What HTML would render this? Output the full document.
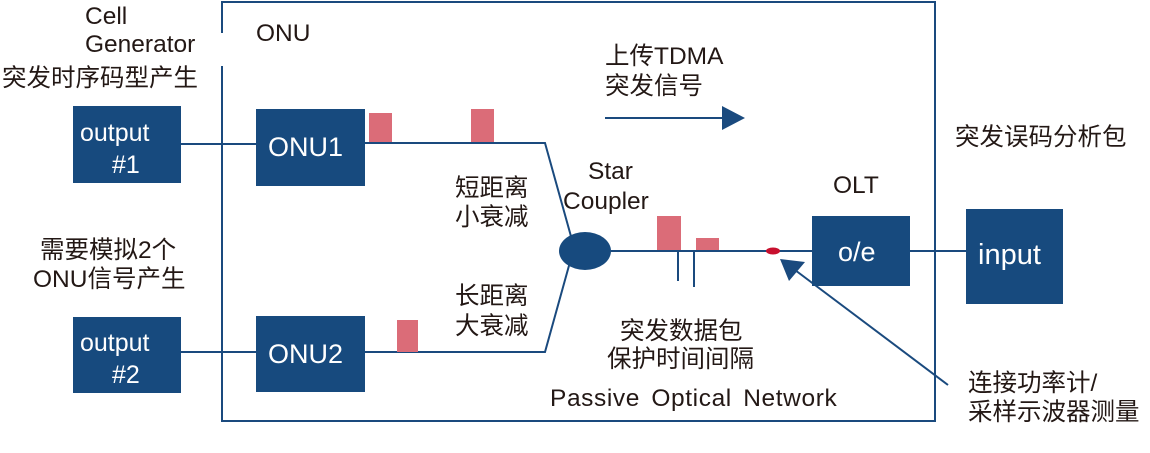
<!DOCTYPE html>
<html><head><meta charset="utf-8"><style>
body{margin:0;background:#fff}
svg text{font-family:"Liberation Sans","Noto Sans CJK SC",sans-serif;fill:#231815}
.w{fill:#fff}
</style></head><body>
<svg width="1150" height="448" viewBox="0 0 1150 448">
<g stroke="#1a4a7e" stroke-width="2" fill="none">
<path d="M222 33 V2 H935 V421 H222 V66"/>
<line x1="181" y1="144" x2="256" y2="144"/>
<line x1="181" y1="352" x2="256" y2="352"/>
<path d="M365 143 H545 L572 240"/>
<path d="M570 262 L545 352 H365"/>
<line x1="611" y1="251" x2="812" y2="251"/>
<line x1="678" y1="251" x2="678" y2="281"/>
<line x1="694" y1="251" x2="694" y2="287"/>
<line x1="910" y1="251" x2="966" y2="251"/>
<line x1="605" y1="118" x2="725" y2="118"/>
<line x1="948" y1="385" x2="795" y2="270"/>
</g>
<polygon points="745,118 722,106 722,130" fill="#1a4a7e"/>
<polygon points="780,259 805,262 789,281" fill="#1a4a7e"/>
<g fill="#174a7e">
<rect x="73" y="106" width="108" height="77"/>
<rect x="256" y="109" width="109" height="77"/>
<rect x="73" y="317" width="108" height="76"/>
<rect x="256" y="316" width="109" height="76"/>
<rect x="812" y="216" width="98" height="70"/>
<rect x="966" y="209" width="97" height="95"/>
<ellipse cx="585" cy="251" rx="26" ry="19"/>
</g>
<g fill="#db6c78">
<rect x="369" y="113" width="23" height="29"/>
<rect x="471" y="109" width="23" height="33"/>
<rect x="397" y="320" width="21" height="32"/>
<rect x="657" y="216" width="24" height="34"/>
<rect x="696" y="238" width="23" height="12"/>
</g>
<ellipse cx="773" cy="251" rx="7" ry="3.5" fill="#c8102e"/>
<g font-size="25">
<text class="w" x="80" y="141">output</text>
<text class="w" x="112" y="173">#1</text>
<text class="w" x="80" y="351">output</text>
<text class="w" x="112" y="383">#2</text>
<text class="w" x="268" y="156" font-size="27">ONU1</text>
<text class="w" x="268" y="363" font-size="27">ONU2</text>
<text class="w" x="838" y="261" font-size="27">o/e</text>
<text class="w" x="978" y="264" font-size="29">input</text>
</g>
<g font-size="24.5">
<text x="85" y="24">Cell</text>
<text x="85" y="52">Generator</text>
<text x="256" y="41">ONU</text>
<text x="605" y="64">上传TDMA</text>
<text x="588" y="179">Star</text>
<text x="563" y="209">Coupler</text>
<text x="833" y="193">OLT</text>
<text x="550" y="406" letter-spacing="0.6" word-spacing="4">Passive Optical Network</text>
</g>
<g font-size="24.5">
<text x="2" y="86">突发时序码型产生</text>
<text x="605" y="94">突发信号</text>
<text x="955" y="145">突发误码分析包</text>
<text x="455" y="196">短距离</text>
<text x="455" y="225">小衰减</text>
<text x="455" y="304">长距离</text>
<text x="455" y="334">大衰减</text>
<text x="40" y="258">需要模拟2个</text>
<text x="33" y="287">ONU信号产生</text>
<text x="620" y="339">突发数据包</text>
<text x="607" y="367">保护时间间隔</text>
<text x="968" y="391">连接功率计/</text>
<text x="968" y="420">采样示波器测量</text>
</g>
</svg>
</body></html>
